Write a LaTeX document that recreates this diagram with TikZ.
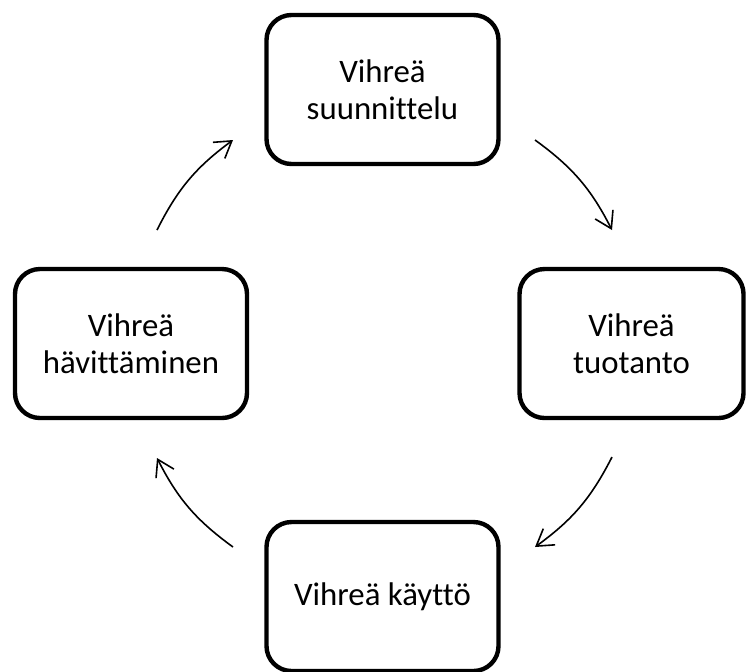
\documentclass[tikz,border=0pt]{standalone}
\usepackage{fontspec}
\setmainfont[Ligatures=NoCommon]{Carlito}
\usepackage{tikz}
\usetikzlibrary{arrows.meta}

\begin{document}
\begin{tikzpicture}[
  x=0.5pt,y=-0.5pt,
  gnode/.style={draw,rounded corners=12.5pt,line width=2.2pt,minimum width=116pt,minimum height=74.5pt,
    inner sep=0pt,align=center,font=\fontsize{16.4}{18.4}\selectfont},
  arr/.style={-{Straight Barb[length=8pt,width=10pt]},line width=0.8pt}
]
\useasboundingbox (0,0) rectangle (747,671);
\clip (0,0) rectangle (747,671);
\node[gnode] (suun) at (382.5,89.5) {Vihreä\\suunnittelu};
\node[gnode,minimum width=112pt] (tuot) at (631.5,343.5) {Vihreä\\tuotanto};
\node[gnode] (kaytto) at (382.5,596.5) {Vihreä käyttö};
\node[gnode] (havi) at (131,343.5) {Vihreä\\hävittäminen};
% arrow ends
\coordinate (s1) at (535,140);
\coordinate (e1) at (612,230);
\coordinate (s2) at (612,457);
\coordinate (e2) at (535,547);
\coordinate (s3) at (233,547);
\coordinate (e3) at (157,458);
\coordinate (s4) at (157,230);
\coordinate (e4) at (233,140);
\draw[arr] (s1) to[bend left=13.5] (e1);
\draw[arr] (s2) to[bend left=13.5] (e2);
\draw[arr] (s3) to[bend left=13.5] (e3);
\draw[arr] (s4) to[bend left=13.5] (e4);
\end{tikzpicture}
\end{document}
